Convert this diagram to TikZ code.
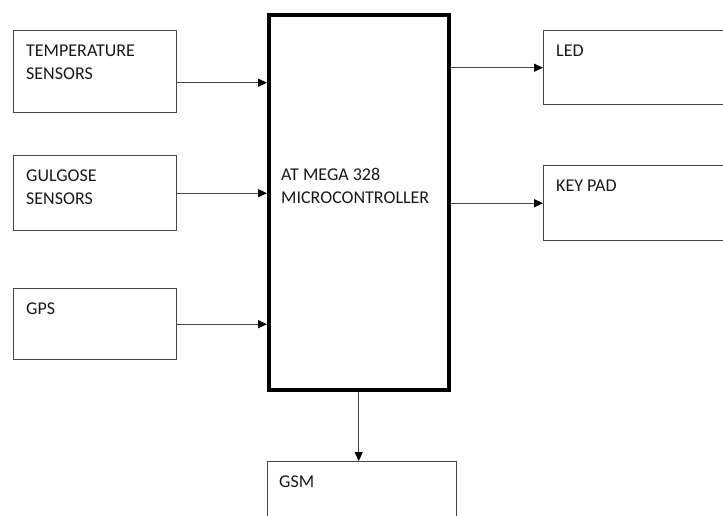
\documentclass[tikz,border=0pt]{standalone}
\usepackage{fontspec}
\setmainfont{Carlito}
\usepackage{tikz}
\usetikzlibrary{arrows.meta, positioning}
\definecolor{boxgray}{RGB}{70, 70, 70}
\definecolor{textgray}{RGB}{25, 25, 25}

\begin{document}
\begin{tikzpicture}[x=1pt, y=-1pt,
  blk/.style={draw=boxgray, line width=1.4pt, anchor=north west, inner sep=0pt},
  txt/.style={anchor=north west, inner sep=0pt, align=left, text=textgray,
    font=\fontsize{18}{23}\selectfont, xshift=13pt, yshift=-15pt},
  arr/.style={draw=boxgray, line width=1.3pt, -{Triangle[length=9pt, width=8pt, color=black]}}]
  \useasboundingbox (0,0) rectangle (723,515);
  \clip (0,0) rectangle (723,515);

  % input blocks
  \node[blk, minimum width=163pt, minimum height=82pt,
    label={[txt]north west:TEMPERATURE\\SENSORS}] (temp) at (13,30) {};
  \node[blk, minimum width=163pt, minimum height=75pt,
    label={[txt]north west:GULGOSE\\SENSORS}] (gluc) at (13,155) {};
  \node[blk, minimum width=163pt, minimum height=71pt,
    label={[txt]north west:GPS}] (gps) at (13,288) {};

  % controller
  \node[blk, draw=black, line width=3.5pt, minimum width=180pt, minimum height=375pt,
    label={[txt, xshift=1pt, yshift=-140pt]north west:AT MEGA 328\\MICROCONTROLLER}] (mcu) at (267,13) {};

  % output blocks
  \node[blk, minimum width=200pt, minimum height=74pt,
    label={[txt]north west:LED}] (led) at (543,30) {};
  \node[blk, minimum width=200pt, minimum height=75pt,
    label={[txt]north west:KEY PAD}] (keypad) at (543,165) {};
  \node[blk, minimum width=189pt, minimum height=80pt,
    label={[txt, xshift=-1pt]north west:GSM}] (gsm) at (267,461) {};

  % connections
  \coordinate (t1) at ([yshift=-11pt]temp.east);
  \draw[arr] (t1) -- (t1 -| mcu.west);
  \draw[arr] (gluc.east) -- (gluc.east -| mcu.west);
  \draw[arr] (gps.east) -- (gps.east -| mcu.west);
  \draw[arr] (led.west -| mcu.east) -- (led.west);
  \draw[arr] (keypad.west -| mcu.east) -- (keypad.west);
  \draw[arr] (mcu.south) -- (mcu.south |- gsm.north);
\end{tikzpicture}
\end{document}
